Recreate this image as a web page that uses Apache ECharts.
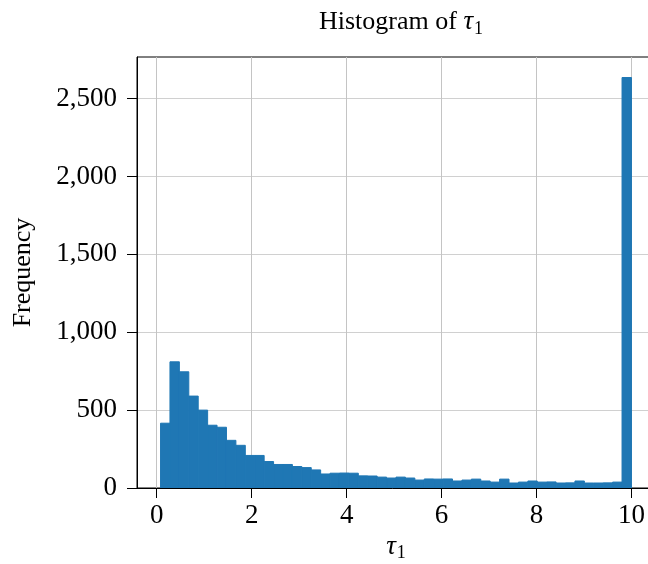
<!DOCTYPE html>
<html>
<head>
<meta charset="utf-8">
<script src="https://cdn.jsdelivr.net/npm/echarts@6/dist/echarts.min.js"></script>
<style>
html,body{margin:0;padding:0;background:#fff;}
#chart{width:648px;height:564px;}
</style>
</head>
<body>
<div id="chart"></div>
<script>
// Histogram data (50 equal-width bins between binMin and binMax)
const binMin = 0.08;
const binMax = 10;
const counts = [
  416, 810, 746, 590, 500, 403, 390, 306, 274, 209,
  209, 170, 151, 151, 138, 131, 116, 90, 95, 96,
  95, 78, 77, 70, 64, 70, 64, 51, 58, 57,
  58, 45, 51, 57, 45, 38, 57, 32, 38, 45,
  38, 39, 32, 33, 45, 32, 32, 33, 38, 2635
];
const xTicks = [0, 2, 4, 6, 8, 10];
const yTicks = [0, 500, 1000, 1500, 2000, 2500];

const FONT = '"Liberation Serif", "DejaVu Serif", serif';
const binWidth = (binMax - binMin) / counts.length;
const seriesData = counts.map((c, i) => [binMin + i * binWidth, binMin + (i + 1) * binWidth, c]);

const xPad = (binMax - binMin) * 0.05;
const yMax = Math.max(...counts) * 1.05;

const chart = echarts.init(document.getElementById('chart'), null, {renderer: 'canvas'});
chart.setOption({
  animation: false,
  backgroundColor: '#ffffff',
  title: {
    text: '{a|Histogram of }{t|τ}{s|1}',
    left: 396,
    top: 1,
    textAlign: 'center',
    textStyle: {
      fontWeight: 'normal',
      rich: {
        a: {fontFamily: FONT, fontSize: 26, fontWeight: 'normal', color: '#000', lineHeight: 32, verticalAlign: 'middle'},
        t: {fontFamily: FONT, fontSize: 27, fontWeight: 'normal', fontStyle: 'italic', color: '#000', lineHeight: 32, verticalAlign: 'middle'},
        s: {fontFamily: FONT, fontSize: 18, fontWeight: 'normal', color: '#000', lineHeight: 32, verticalAlign: 'bottom', padding: [0, 0, 0, 1]}
      }
    }
  },
  grid: {
    left: 137, top: 57, right: -7, bottom: 76,
    show: true, borderColor: '#000', borderWidth: 1,
    containLabel: false, outerBoundsMode: 'none'
  },
  xAxis: {
    type: 'value',
    min: binMin - xPad,
    max: binMax + xPad,
    splitNumber: 5,
    name: '{t|τ}{s|1}',
    nameLocation: 'middle',
    nameGap: 44,
    nameTextStyle: {
      rich: {
        t: {fontFamily: FONT, fontSize: 27, fontStyle: 'italic', color: '#000', lineHeight: 30, verticalAlign: 'middle'},
        s: {fontFamily: FONT, fontSize: 18, color: '#000', lineHeight: 30, verticalAlign: 'bottom', padding: [0, 0, 0, 1]}
      }
    },
    axisLine: {show: true, onZero: false, lineStyle: {color: '#000', width: 1}},
    axisTick: {show: true, customValues: xTicks, length: 10, lineStyle: {color: '#000', width: 1}},
    axisLabel: {customValues: xTicks, fontFamily: FONT, fontSize: 27, color: '#000', margin: 14},
    splitLine: {show: true, lineStyle: {color: '#c4c4c4', width: 1}}
  },
  yAxis: {
    type: 'value',
    min: 0,
    max: yMax,
    splitNumber: 5,
    name: 'Frequency',
    nameLocation: 'middle',
    nameGap: 101,
    nameTextStyle: {fontFamily: FONT, fontSize: 26, color: '#000'},
    axisLine: {show: true, onZero: false, lineStyle: {color: '#000', width: 1}},
    axisTick: {show: true, customValues: yTicks, length: 10, lineStyle: {color: '#000', width: 1}},
    axisLabel: {
      customValues: yTicks,
      fontFamily: FONT, fontSize: 27, color: '#000', margin: 20,
      formatter: v => v.toLocaleString('en-US')
    },
    splitLine: {show: true, lineStyle: {color: '#d0d0d0', width: 1}}
  },
  series: [{
    type: 'custom',
    data: seriesData,
    encode: {x: [0, 1], y: 2},
    clip: true,
    renderItem: function (params, api) {
      const p0 = api.coord([api.value(0), api.value(2)]);
      const p1 = api.coord([api.value(1), 0]);
      return {
        type: 'rect',
        shape: {x: p0[0], y: p0[1], width: p1[0] - p0[0], height: p1[1] - p0[1]},
        style: {fill: '#1f77b4', stroke: '#1f77b4', lineWidth: 1}
      };
    }
  }]
});
</script>
</body>
</html>
